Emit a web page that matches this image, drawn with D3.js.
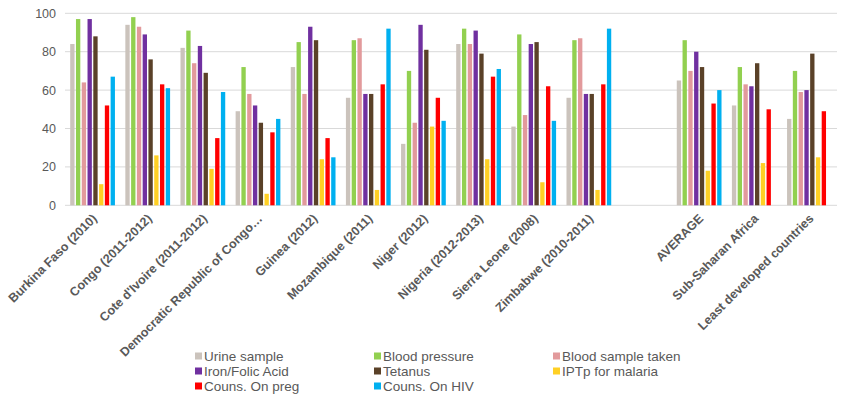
<!DOCTYPE html>
<html>
<head>
<meta charset="utf-8">
<script src="https://cdn.jsdelivr.net/npm/d3@7"></script>
<style>
  body { margin: 0; background: #fff; }
  text { font-family: Arial, "Liberation Sans", sans-serif; fill: #595959; }
</style>
</head>
<body>
<svg id="chart" width="850" height="396"></svg>
<script>
// categories (one empty slot between the countries and the summary groups)
const categories = [
  "Burkina Faso (2010)", "Congo (2011-2012)", "Cote d'Ivoire (2011-2012)",
  "Democratic Republic of Congo…", "Guinea (2012)", "Mozambique (2011)",
  "Niger (2012)", "Nigeria (2012-2013)", "Sierra Leone (2008)",
  "Zimbabwe (2010-2011)", "", "AVERAGE", "Sub-Saharan Africa",
  "Least developed countries"
];

const seriesNames = [
  "Urine sample", "Blood pressure", "Blood sample taken", "Iron/Folic Acid",
  "Tetanus", "IPTp for malaria", "Couns. On preg", "Couns. On HIV"
];
const seriesColors = [
  "#cbc3bc", "#92d050", "#e29a9c", "#7030a0",
  "#5a4128", "#ffd024", "#ff0000", "#00b0f0"
];

// values per series, one per category (null = no bar)
const urineSample      = [84, 94, 82, 49, 72, 56, 32, 84, 41, 56, null, 65, 52, 45];
const bloodPressure    = [97, 98, 91, 72, 85, 86, 70, 92, 89, 86, null, 86, 72, 70];
const bloodSample      = [64, 93, 74, 58, 58, 87, 43, 84, 47, 87, null, 70, 63, 59];
const ironFolicAcid    = [97, 89, 83, 52, 93, 58, 94, 91, 84, 58, null, 80, 62, 60];
const tetanus          = [88, 76, 69, 43, 86, 58, 81, 79, 85, 58, null, 72, 74, 79];
const iptpMalaria      = [11, 26, 19, 6, 24, 8, 41, 24, 12, 8, null, 18, 22, 25];
const counsPreg        = [52, 63, 35, 38, 35, 63, 56, 67, 62, 63, null, 53, 50, 49];
const counsHIV         = [67, 61, 59, 45, 25, 92, 44, 71, 44, 92, null, 60, null, null];

const seriesValues = [urineSample, bloodPressure, bloodSample, ironFolicAcid,
                      tetanus, iptpMalaria, counsPreg, counsHIV];

const yTicks = [0, 20, 40, 60, 80, 100];

const svg = d3.select("#chart");
const plotLeft = 65, plotRight = 837, plotTop = 13.3, plotBottom = 205.3;

// band per category, keyed by index so the empty slot works
const x0 = d3.scaleBand()
  .domain(d3.range(categories.length))
  .range([plotLeft, plotRight]);

const x1 = d3.scaleBand()
  .domain(d3.range(seriesNames.length))
  .range([0, x0.bandwidth()])
  .paddingInner(0.25)
  .paddingOuter(0.9);

const y = d3.scaleLinear().domain([0, 100]).range([plotBottom, plotTop]);

// gridlines
svg.append("g")
  .selectAll("line")
  .data(yTicks)
  .join("line")
  .attr("x1", plotLeft).attr("x2", plotRight)
  .attr("y1", d => y(d)).attr("y2", d => y(d))
  .style("stroke", "#d9d9d9")
  .style("stroke-width", 1);

// y labels
svg.append("g")
  .selectAll("text")
  .data(yTicks)
  .join("text")
  .attr("x", 56)
  .attr("y", d => y(d) + 4.5)
  .attr("text-anchor", "end")
  .style("font-size", "12.5px")
  .text(d => d);

// bars
const rows = [];
seriesValues.forEach((vals, s) => {
  vals.forEach((v, c) => {
    if (v != null) rows.push({s: s, c: c, v: v});
  });
});

svg.append("g")
  .selectAll("rect")
  .data(rows)
  .join("rect")
  .attr("x", d => x0(d.c) + x1(d.s))
  .attr("width", x1.bandwidth())
  .attr("y", d => y(d.v))
  .attr("height", d => y(0) - y(d.v))
  .style("fill", d => seriesColors[d.s]);

// x labels, rotated
svg.append("g")
  .selectAll("text")
  .data(categories)
  .join("text")
  .attr("transform", (d, i) => {
    const cx = x0(i) + x0.bandwidth() / 2 + 5;
    return "translate(" + cx + "," + (plotBottom + 14) + ") rotate(-45)";
  })
  .attr("text-anchor", "end")
  .style("font-size", "12.5px")
  .style("font-weight", "bold")
  .text(d => d);

// legend
const legendCols = [195, 374, 553];
const legendRows = [356, 371, 386];
const legend = svg.append("g")
  .selectAll("g")
  .data(seriesNames)
  .join("g")
  .attr("transform", (d, i) =>
    "translate(" + legendCols[i % 3] + "," + legendRows[Math.floor(i / 3)] + ")");

legend.append("rect")
  .attr("x", 0).attr("y", -3.5)
  .attr("width", 7).attr("height", 7)
  .style("fill", (d, i) => seriesColors[i]);

legend.append("text")
  .attr("x", 9)
  .attr("y", 4.8)
  .style("font-size", "13.5px")
  .text(d => d);
</script>
</body>
</html>
